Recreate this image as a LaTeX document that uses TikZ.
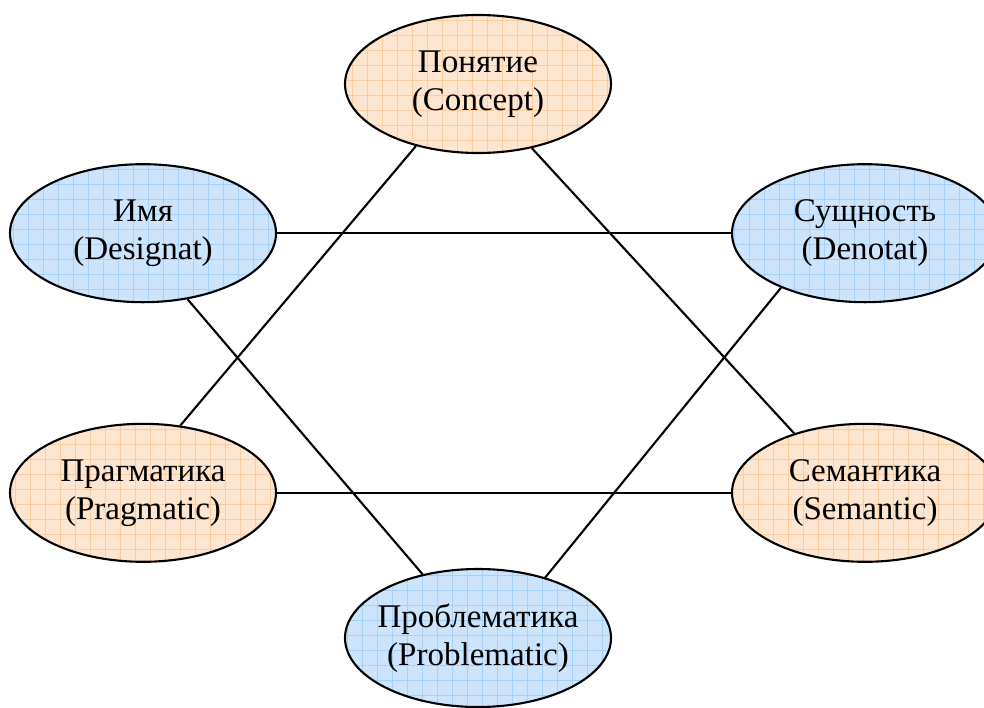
\documentclass[tikz,border=0pt]{standalone}
\usepackage{fontspec}
\setmainfont{Liberation Serif}
\usetikzlibrary{shapes.geometric}
\definecolor{orfill}{HTML}{FDE5CF}
\definecolor{orgrid}{HTML}{FACDA0}
\definecolor{blfill}{HTML}{CDE5FC}
\definecolor{blgrid}{HTML}{A6D2FA}
\tikzset{
  oval/.style={ellipse, draw=black, line width=1.5pt, minimum width=6.65cm, minimum height=3.45cm, inner xsep=-0.5cm, inner ysep=0pt, align=center, font=\fontsize{23.5}{27}\selectfont},
  orangeoval/.style={oval, fill=orfill, path picture={\draw[orgrid, line width=0.45pt, step=0.375cm] (path picture bounding box.south west) grid (path picture bounding box.north east);}},
  blueoval/.style={oval, fill=blfill, path picture={\draw[blgrid, line width=0.45pt, step=0.375cm] (path picture bounding box.south west) grid (path picture bounding box.north east);}},
  link/.style={line width=1.5pt, black}
}
\begin{document}
\begin{tikzpicture}
\useasboundingbox (0,0) rectangle (24.6,-17.7);
\clip (0,0) rectangle (24.6,-17.7);
\node[orangeoval] (concept) at (11.95,-2.1) {Понятие\\(Concept)};
\node[blueoval] (name) at (3.575,-5.83) {Имя\\(Designat)};
\node[blueoval] (entity) at (21.625,-5.83) {Сущность\\(Denotat)};
\node[orangeoval] (prag) at (3.575,-12.32) {Прагматика\\(Pragmatic)};
\node[orangeoval] (sem) at (21.625,-12.32) {Семантика\\(Semantic)};
\node[blueoval] (prob) at (11.95,-15.95) {Проблематика\\(Problematic)};
\draw[link] (name.east) -- (entity.west);
\draw[link] (prag.east) -- (sem.west);
\draw[link] (concept.225) -- (prag.61);
\draw[link] (concept.310) -- (sem.140);
\draw[link] (name.304) -- (prob.131);
\draw[link] (entity.213) -- (prob.42);
\end{tikzpicture}
\end{document}
